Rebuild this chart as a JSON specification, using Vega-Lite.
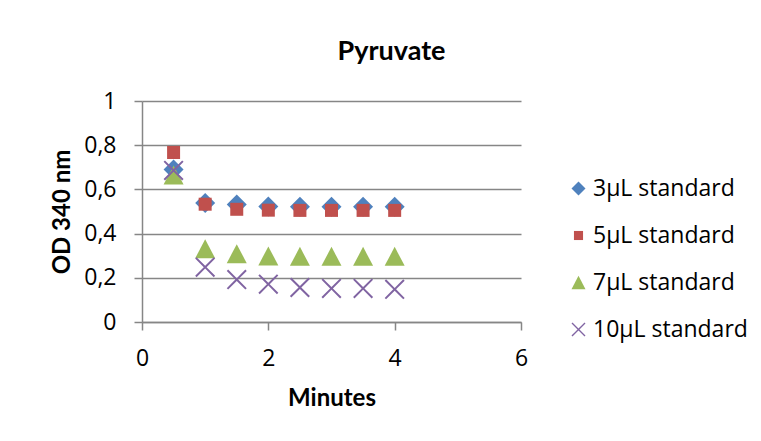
{
  "$schema": "https://vega.github.io/schema/vega-lite/v6.json",
  "width": 379,
  "height": 221,
  "autosize": {"type": "none"},
  "padding": {"left": 142, "top": 101, "right": 240, "bottom": 119},
  "background": "#ffffff",
  "title": {
    "text": "Pyruvate",
    "font": "Lato",
    "fontSize": 27,
    "fontWeight": "bold",
    "color": "#000000",
    "anchor": "middle",
    "frame": "group",
    "baseline": "alphabetic",
    "offset": 3,
    "dx": 60
  },
  "data": {
    "values": [
      {"series": "3µL standard", "minutes": 0.5, "od": 0.69},
      {"series": "3µL standard", "minutes": 1.0, "od": 0.538},
      {"series": "3µL standard", "minutes": 1.5, "od": 0.532},
      {"series": "3µL standard", "minutes": 2.0, "od": 0.523},
      {"series": "3µL standard", "minutes": 2.5, "od": 0.522},
      {"series": "3µL standard", "minutes": 3.0, "od": 0.522},
      {"series": "3µL standard", "minutes": 3.5, "od": 0.522},
      {"series": "3µL standard", "minutes": 4.0, "od": 0.522},
      {"series": "5µL standard", "minutes": 0.5, "od": 0.767},
      {"series": "5µL standard", "minutes": 1.0, "od": 0.533},
      {"series": "5µL standard", "minutes": 1.5, "od": 0.51},
      {"series": "5µL standard", "minutes": 2.0, "od": 0.506},
      {"series": "5µL standard", "minutes": 2.5, "od": 0.505},
      {"series": "5µL standard", "minutes": 3.0, "od": 0.505},
      {"series": "5µL standard", "minutes": 3.5, "od": 0.505},
      {"series": "5µL standard", "minutes": 4.0, "od": 0.505},
      {"series": "7µL standard", "minutes": 0.5, "od": 0.665},
      {"series": "7µL standard", "minutes": 1.0, "od": 0.331},
      {"series": "7µL standard", "minutes": 1.5, "od": 0.309},
      {"series": "7µL standard", "minutes": 2.0, "od": 0.299},
      {"series": "7µL standard", "minutes": 2.5, "od": 0.297},
      {"series": "7µL standard", "minutes": 3.0, "od": 0.297},
      {"series": "7µL standard", "minutes": 3.5, "od": 0.297},
      {"series": "7µL standard", "minutes": 4.0, "od": 0.297},
      {"series": "10µL standard", "minutes": 0.5, "od": 0.686},
      {"series": "10µL standard", "minutes": 1.0, "od": 0.248},
      {"series": "10µL standard", "minutes": 1.5, "od": 0.192},
      {"series": "10µL standard", "minutes": 2.0, "od": 0.171},
      {"series": "10µL standard", "minutes": 2.5, "od": 0.156},
      {"series": "10µL standard", "minutes": 3.0, "od": 0.152},
      {"series": "10µL standard", "minutes": 3.5, "od": 0.152},
      {"series": "10µL standard", "minutes": 4.0, "od": 0.148}
    ]
  },
  "mark": {"type": "point", "filled": true, "opacity": 1, "strokeWidth": 0, "size": 400},
  "encoding": {
    "x": {
      "field": "minutes",
      "type": "quantitative",
      "scale": {"domain": [0, 6], "nice": false, "zero": true},
      "axis": {
        "values": [0, 2, 4, 6],
        "grid": false,
        "title": "Minutes",
        "titleY": 83,
        "titleBaseline": "alphabetic",
        "labelBaseline": "alphabetic",
        "labelPadding": 35,
        "labelFlush": false
      }
    },
    "y": {
      "field": "od",
      "type": "quantitative",
      "scale": {"domain": [0, 1], "nice": false},
      "axis": {
        "values": [0, 0.2, 0.4, 0.6, 0.8, 1],
        "format": ".1~f",
        "labelExpr": "replace(datum.label, '.', ',')",
        "grid": true,
        "title": "OD 340 nm",
        "titleAngle": -90,
        "titleX": -73,
        "titleY": 110.5,
        "titleAlign": "center",
        "titleBaseline": "alphabetic",
        "labelPadding": 18,
        "labelBaseline": "middle",
        "labelFlush": false
      }
    },
    "color": {
      "field": "series",
      "type": "nominal",
      "sort": null,
      "scale": {
        "domain": ["3µL standard", "5µL standard", "7µL standard", "10µL standard"],
        "range": ["#4F81BD", "#C0504D", "#9BBB59", "#8064A2"]
      },
      "legend": {
        "title": null,
        "orient": "none",
        "legendX": 425,
        "legendY": 76,
        "padding": 0,
        "rowPadding": 23,
        "labelOffset": 3,
        "symbolSize": 196,
        "symbolStrokeWidth": 0,
        "labelFont": "Open Sans",
        "labelFontSize": 23,
        "labelColor": "#000000",
        "labelLimit": 300
      }
    },
    "shape": {
      "field": "series",
      "type": "nominal",
      "sort": null,
      "scale": {
        "domain": ["3µL standard", "5µL standard", "7µL standard", "10µL standard"],
        "range": [
          "diamond",
          "M-0.65,-0.65L0.65,-0.65L0.65,0.65L-0.65,0.65Z",
          "M0,-0.95L1,0.95L-1,0.95Z",
          "M-1,-0.86L-0.86,-1L0,-0.14L0.86,-1L1,-0.86L0.14,0L1,0.86L0.86,1L0,0.14L-0.86,1L-1,0.86L-0.14,0Z"
        ]
      },
      "legend": {
        "title": null,
        "orient": "none",
        "legendX": 425,
        "legendY": 76,
        "padding": 0,
        "rowPadding": 23,
        "labelOffset": 3,
        "symbolSize": 196,
        "symbolStrokeWidth": 0,
        "labelFont": "Open Sans",
        "labelFontSize": 23,
        "labelColor": "#000000",
        "labelLimit": 300
      }
    }
  },
  "config": {
    "view": {"stroke": null},
    "axis": {
      "domainColor": "#868686",
      "domainWidth": 1.5,
      "gridColor": "#868686",
      "gridWidth": 1.5,
      "tickColor": "#868686",
      "tickWidth": 1.5,
      "tickSize": 8,
      "labelFont": "Open Sans",
      "labelFontSize": 23,
      "labelColor": "#000000",
      "titleFont": "Lato",
      "titleFontSize": 24,
      "titleFontWeight": "bold",
      "titleColor": "#000000"
    }
  }
}
